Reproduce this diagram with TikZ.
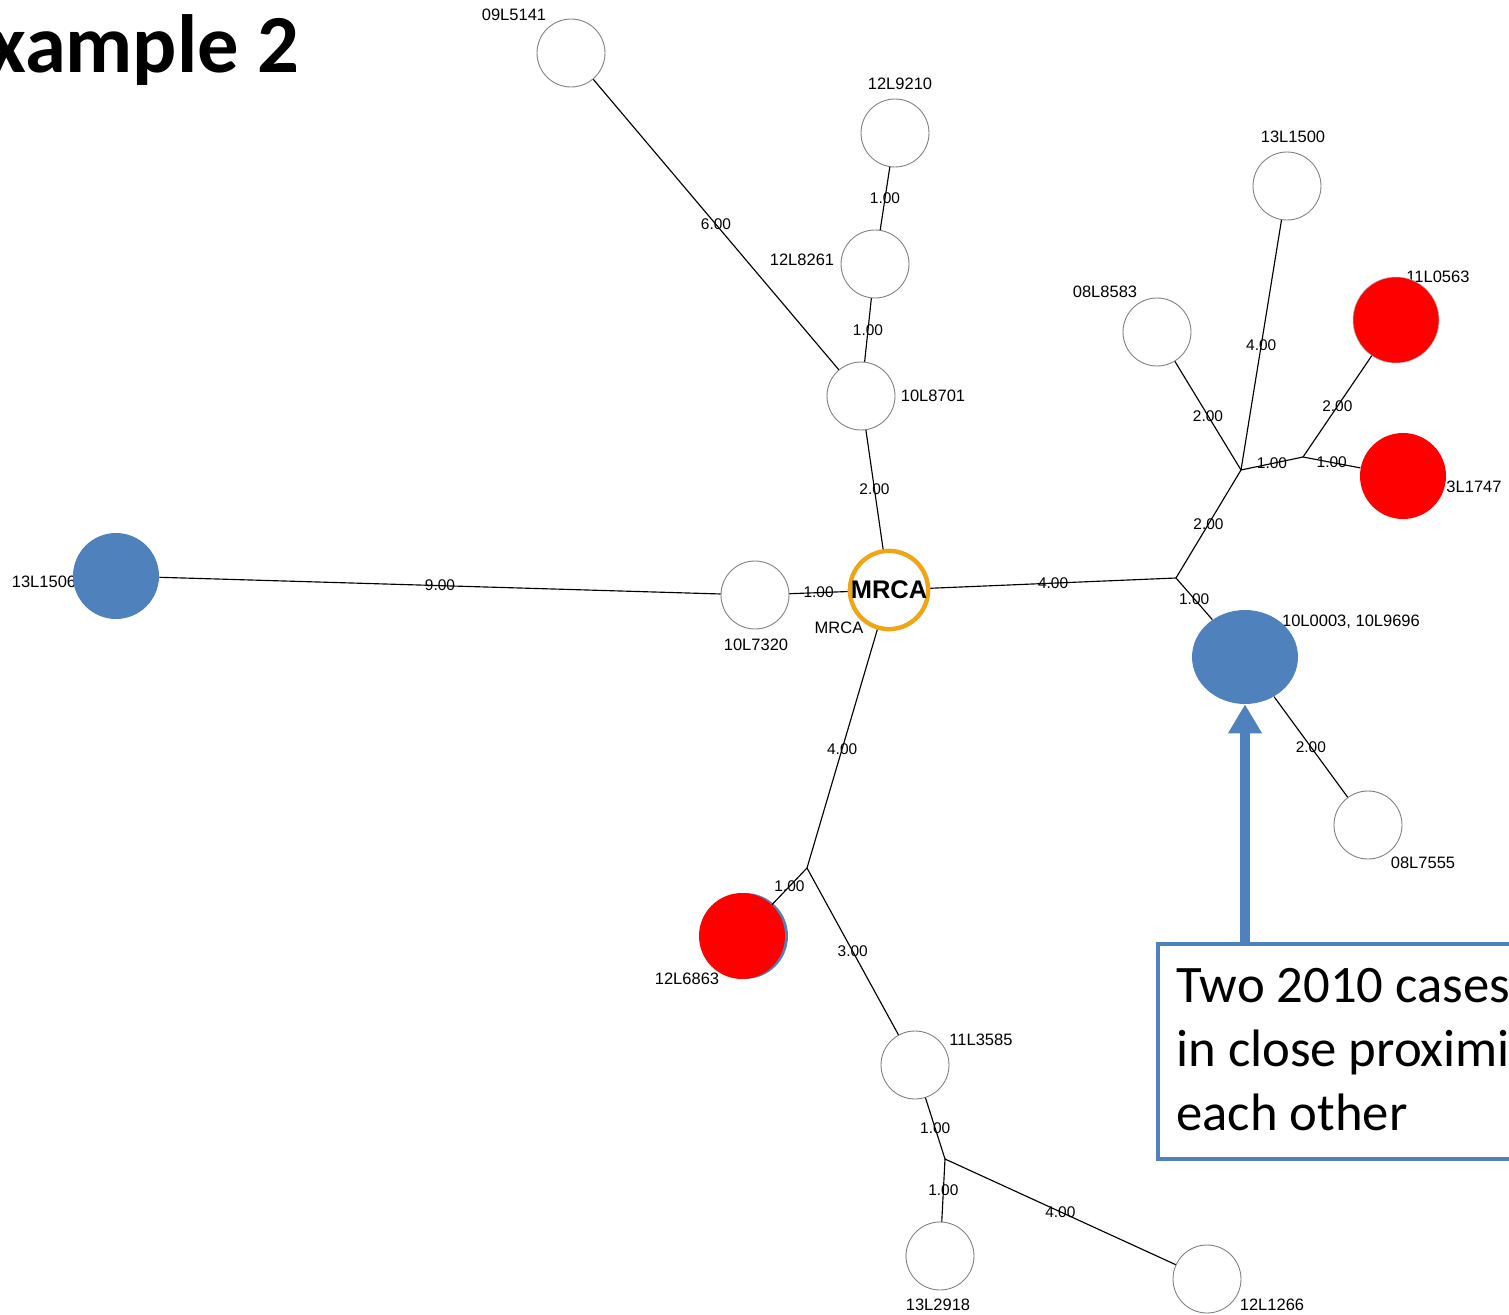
\documentclass[tikz,border=0pt]{standalone}
\usepackage{fontspec}
\setmainfont{Liberation Sans}
\newfontfamily\calibri{Carlito}
\usetikzlibrary{shapes.geometric,arrows.meta}
\definecolor{caseblue}{RGB}{79,129,189}
\definecolor{casered}{RGB}{255,0,0}
\definecolor{mrcaorange}{RGB}{240,165,20}

\begin{document}
\begin{tikzpicture}[x=0.02cm,y=-0.02cm]
\tikzstyle{iso}=[draw=gray,fill=white,shape=circle,minimum size=1.36cm,inner sep=0pt,line width=0.5pt]
\tikzstyle{redcase}=[fill=casered,shape=circle,minimum size=1.72cm,inner sep=0pt]
\tikzstyle{bluecase}=[fill=caseblue,shape=circle,minimum size=1.72cm,inner sep=0pt]
\tikzstyle{lab}=[font=\fontsize{9.4}{11}\selectfont,inner sep=0pt]
\tikzstyle{len}=[font=\fontsize{8.8}{10}\selectfont,inner sep=0pt]
\tikzstyle{branch}=[line width=0.65pt]
\useasboundingbox (0,0) rectangle (1509,1315);

\node[font=\calibri\bfseries\fontsize{47}{56}\selectfont,anchor=base east,inner sep=0pt] (title) at (300,72) {Example 2};

% sample labels
\node[lab] (l09L5141) at (514,15) {09L5141};
\node[lab] (l12L9210) at (900,84) {12L9210};
\node[lab] (l12L8261) at (802,260) {12L8261};
\node[lab] (l10L8701) at (933,396) {10L8701};
\node[lab] (lmrca) at (839,628) {MRCA};
\node[lab] (l10L7320) at (756,645) {10L7320};
\node[lab] (l13L1506) at (44,582) {13L1506};
\node[lab] (l13L1500) at (1293,137) {13L1500};
\node[lab] (l08L8583) at (1105,292) {08L8583};
\node[lab] (l11L0563) at (1438,277) {11L0563};
\node[lab] (l13L1747) at (1474,487) {3L1747};
\node[lab] (l10L0003) at (1351,622) {10L0003, 10L9696};
\node[lab] (l08L7555) at (1423,863) {08L7555};
\node[lab] (l12L6863) at (687,979) {12L6863};
\node[lab] (l11L3585) at (981,1040) {11L3585};
\node[lab] (l13L2918) at (938,1305) {13L2918};
\node[lab] (l12L1266) at (1272,1305) {12L1266};

% samples
\node[iso] (n09L5141) at (571,53) {};
\node[iso] (n12L9210) at (895,133) {};
\node[iso] (n12L8261) at (875,264) {};
\node[iso] (n10L8701) at (861,396) {};
\node[iso,draw=mrcaorange,line width=2.5pt,minimum size=1.44cm,font=\bfseries\fontsize{14.5}{16}\selectfont] (mrca) at (889,590) {MRCA};
\node[iso] (n10L7320) at (755,595) {};
\node[bluecase] (n13L1506) at (116,576) {};
\node[iso] (n13L1500) at (1287,186) {};
\node[iso] (n08L8583) at (1157,332) {};
\node[redcase,draw=gray!60,line width=0.3pt] (n11L0563) at (1396,320) {};
\node[redcase] (n13L1747) at (1403,476) {};
\node[fill=caseblue,shape=ellipse,minimum width=2.12cm,minimum height=1.88cm,inner sep=0pt] (n10L0003) at (1245,657) {};
\node[iso] (n08L7555) at (1368,825) {};
\node[bluecase] (b12L6863) at (745,936) {};
\node[redcase] (n12L6863) at (742,936) {};
\node[iso] (n11L3585) at (915,1065) {};
\node[iso] (n13L2918) at (940,1256) {};
\node[iso] (n12L1266) at (1207,1279) {};

\coordinate (j1) at (1176,578);
\coordinate (j2) at (1241,470);
\coordinate (j3) at (1303,457);
\coordinate (j4) at (807,868);
\coordinate (j5) at (945,1159);

% branches
\draw[branch] (n09L5141) -- node[len]{6.00} (n10L8701);
\draw[branch] (n12L9210) -- node[len]{1.00} (n12L8261);
\draw[branch] (n12L8261) -- node[len]{1.00} (n10L8701);
\draw[branch] (n10L8701) -- node[len]{2.00} (mrca);
\draw[branch] (n13L1506) -- node[len]{9.00} (n10L7320);
\draw[branch] (n10L7320) -- node[len]{1.00} (mrca);
\draw[branch] (mrca) -- node[len]{4.00} (j1);
\draw[branch] (j1) -- node[len]{2.00} (j2);
\draw[branch] (j1) -- node[len]{1.00} (n10L0003);
\draw[branch] (j2) -- node[len]{2.00} (n08L8583);
\draw[branch] (j2) -- node[len]{4.00} (n13L1500);
\draw[branch] (j2) -- node[len]{1.00} (j3);
\draw[branch] (j3) -- node[len]{2.00} (n11L0563);
\draw[branch] (j3) -- node[len]{1.00} (n13L1747);
\draw[branch] (n10L0003) -- node[len]{2.00} (n08L7555);
\draw[branch] (mrca) -- node[len]{4.00} (j4);
\draw[branch] (j4) -- node[len]{1.00} (n12L6863);
\draw[branch] (j4) -- node[len]{3.00} (n11L3585);
\draw[branch] (n11L3585) -- node[len]{1.00} (j5);
\draw[branch] (j5) -- node[len]{1.00} (n13L2918);
\draw[branch] (j5) -- node[len]{4.00} (n12L1266);

% callout
\node[draw=caseblue,line width=0.08cm,anchor=north west,minimum width=8.2cm,minimum height=4.3cm,inner sep=0pt] (note) at (1156,942) {};
\node[font=\calibri\fontsize{30}{36.2}\selectfont,align=left,anchor=base west,inner sep=0pt] (notetext) at (1176,1130) {Two 2010 cases\\in close proximity to\\each other};
\draw[caseblue,line width=0.2cm,-{Triangle[width=0.64cm,length=0.58cm]}] (note.north -| n10L0003) -- (n10L0003.south);
\end{tikzpicture}
\end{document}
